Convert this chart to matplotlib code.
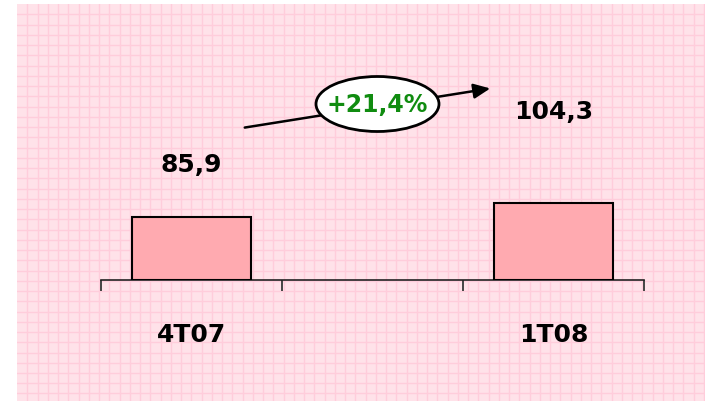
import matplotlib
matplotlib.use('Agg')
import matplotlib.pyplot as plt
from matplotlib.patches import Ellipse
import numpy as np

# data
periodes = ['4T07', '', '1T08']
valeurs = [85.9, None, 104.3]
etiquettes = ['85,9', '', '104,3']
variation = '+21,4%'

W, H = 705, 402
fig = plt.figure(figsize=(W / 100, H / 100), dpi=100)
fig.patch.set_facecolor('white')

# fond rose quadrille
bg = fig.add_axes([17 / W, 0, 1 - 17 / W, 1 - 5 / H])
bg.set_xlim(17, W)
bg.set_ylim(H, 5)
bg.set_facecolor('#ffe2e9')
for x in np.arange(17 + 10.25, W, 10.25):
    bg.axvline(x, color='#ffcddb', lw=1.0)
for y in np.arange(5 + 10.25, H, 10.25):
    bg.axhline(y, color='#ffcddb', lw=1.0)
bg.set_xticks([])
bg.set_yticks([])
for s in bg.spines.values():
    s.set_visible(False)

# axe principal
base = 281
top = 60
ax = fig.add_axes([101 / W, (H - base) / H, 543 / W, (base - top) / H])
ax.patch.set_alpha(0)
px = 77 / 104.3
ax.set_xlim(-0.5, 2.5)
ax.set_ylim(0, (base - top) / px)

xs = [i for i, v in enumerate(valeurs) if v is not None]
hs = [v for v in valeurs if v is not None]
ax.bar(xs, hs, width=0.66, color='#ffaab0', edgecolor='black', lw=1.5, zorder=3)

for s in ['top', 'right', 'left']:
    ax.spines[s].set_visible(False)
ax.spines['bottom'].set_color('#222222')
ax.spines['bottom'].set_linewidth(1.2)
ax.set_yticks([])
ax.set_xticks(range(len(periodes)))
ax.set_xticklabels(periodes, fontsize=18, fontweight='bold')
ax.tick_params(axis='x', which='major', length=0, pad=30)
ax.set_xticks(np.arange(-0.5, 3, 1), minor=True)
ax.tick_params(axis='x', which='minor', length=8, width=1.4, color='#444444')

# valeurs
lab_y = [(base - 165) / px, None, (base - 112) / px]
for i, t in enumerate(etiquettes):
    if t:
        ax.text(i, lab_y[i], t, ha='center', va='center', fontsize=18,
                fontweight='bold', color='black')

# fleche + variation
ax.annotate('', xy=((493 - 101) / 181 - 0.5, (base - 89) / px),
            xytext=((242 - 101) / 181 - 0.5, (base - 129) / px),
            arrowprops=dict(arrowstyle='-|>,head_length=1.0,head_width=0.45',
                            color='black', lw=1.8),
            annotation_clip=False)
cx, cy = (377.5 - 101) / 181 - 0.5, (base - 105) / px
ax.add_patch(Ellipse((cx, cy), 123 / 181, 55 / px, facecolor='white',
                     edgecolor='black', lw=2, clip_on=False, zorder=5))
ax.text(cx, cy, variation, ha='center', va='center', fontsize=17,
        fontweight='bold', color='#108c10', zorder=6)

fig.savefig('out.png', dpi=100)
